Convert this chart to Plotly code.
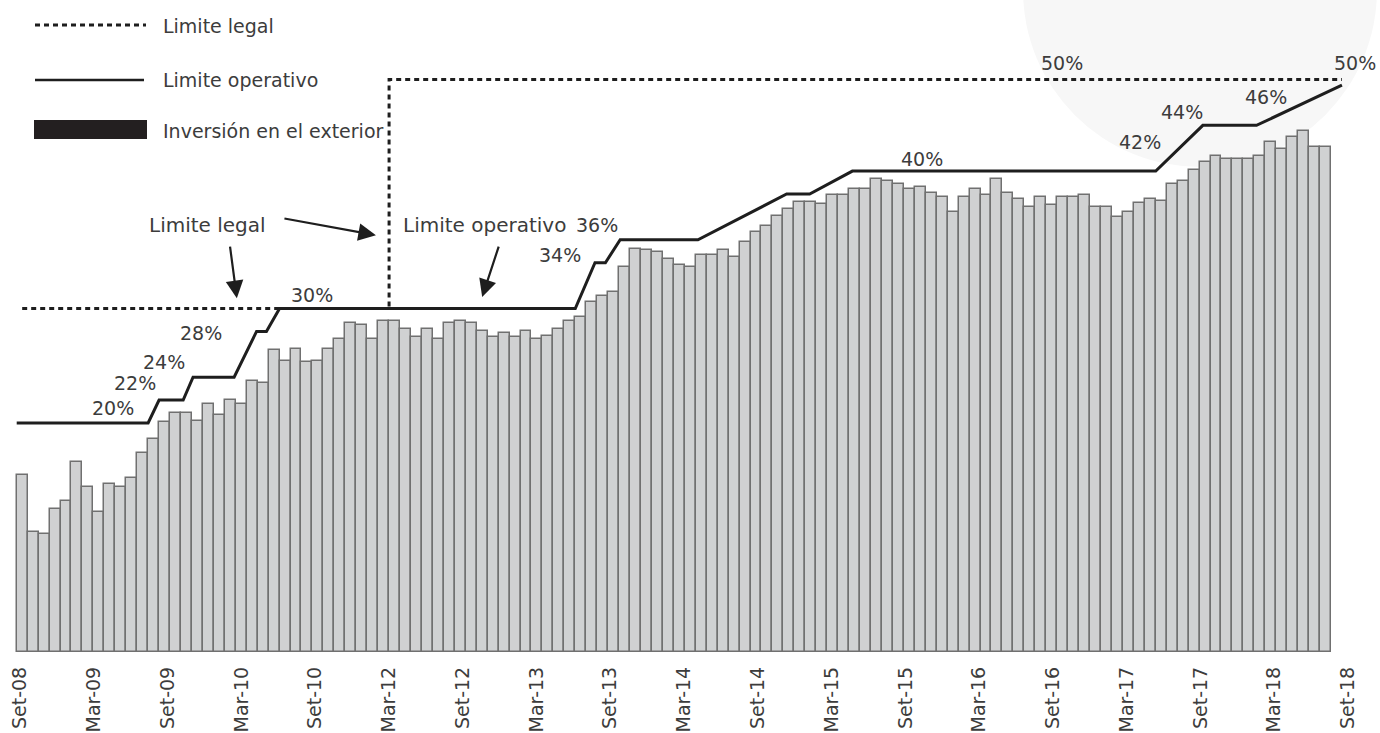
import plotly.graph_objects as go

# Inversión de los fondos en el exterior (% de la cartera), mensual desde set-08
inversion = [
    15.5, 10.5, 10.3, 12.5, 13.2, 16.6, 14.4, 12.2, 14.7, 14.4,
    15.2, 17.4, 18.6, 20.1, 20.9, 20.9, 20.2, 21.7, 20.7, 22.0,
    21.7, 23.7, 23.5, 26.4, 25.4, 26.5, 25.3, 25.4, 26.5, 27.3,
    28.7, 28.6, 27.3, 28.9, 28.9, 28.2, 27.5, 28.2, 27.3, 28.7,
    28.9, 28.7, 28.0, 27.5, 27.9, 27.5, 28.0, 27.3, 27.6, 28.2,
    28.9, 29.3, 30.6, 31.1, 31.4, 33.6, 35.2, 35.1, 34.9, 34.3,
    33.8, 33.6, 34.7, 34.7, 35.1, 34.5, 35.8, 36.7, 37.2, 38.1,
    38.7, 39.3, 39.3, 39.1, 39.9, 39.9, 40.4, 40.4, 41.3, 41.1,
    40.9, 40.4, 40.6, 40.1, 39.7, 38.4, 39.7, 40.4, 39.9, 41.3,
    40.1, 39.6, 38.9, 39.7, 39.0, 39.7, 39.7, 39.9, 38.9, 38.9,
    38.0, 38.4, 39.2, 39.6, 39.4, 40.9, 41.1, 42.1, 42.8, 43.3,
    43.1, 43.1, 43.1, 43.3, 44.5, 43.9, 45.0, 45.5, 44.1, 44.1,
]
meses = list(range(len(inversion)))

# Límite operativo: quiebres (mes, %)
operativo_mes = [-0.5, 11.5, 12.5, 14.7, 15.6, 19.35, 21.4, 22.3, 23.5,
                 50.5, 52.3, 53.25, 54.6, 61.7, 69.8, 71.9, 75.8,
                 103.5, 107.8, 112.7, 120.5]
operativo_pct = [20, 20, 22, 22, 24, 24, 28, 28, 30,
                 30, 34, 34, 36, 36, 40, 40, 42,
                 42, 46, 46, 49.5]

# Límite legal: 30% y luego 50%
legal_mes = [0, 33.5, 33.5, 120.5]
legal_pct = [30, 30, 50, 50]

# Etiquetas del eje horizontal
etiquetas = ["Set-08", "Mar-09", "Set-09", "Mar-10", "Set-10", "Mar-12",
             "Set-12", "Mar-13", "Set-13", "Mar-14", "Set-14", "Mar-15",
             "Set-15", "Mar-16", "Set-16", "Mar-17", "Set-17", "Mar-18",
             "Set-18"]

# Etiquetas de porcentaje sobre las líneas: (mes, %, texto)
rotulos = [
    (8.3, 21.3, "20%"), (10.3, 23.5, "22%"), (12.95, 25.3, "24%"),
    (16.3, 27.9, "28%"), (26.5, 31.2, "30%"), (49.1, 34.7, "34%"),
    (52.5, 37.3, "36%"), (82.2, 43.1, "40%"), (102.1, 44.5, "42%"),
    (105.9, 47.2, "44%"), (113.6, 48.5, "46%"), (94.9, 51.4, "50%"),
    (121.7, 51.4, "50%"),
]

FONT = "DejaVu Sans"
TXT = "#3c3c3c"
INK = "#1e1e1e"
W, H = 1380, 733
PLOT_BOTTOM = 652  # px where the bars sit

fig = go.Figure()

fig.add_trace(go.Bar(
    x=meses, y=inversion, width=1,
    marker=dict(color="#d0d1d2", line=dict(color="#707070", width=1.5)),
    hoverinfo="skip",
))
fig.add_trace(go.Scatter(
    x=legal_mes, y=legal_pct, mode="lines",
    line=dict(color=INK, width=3, dash="5px,4px"),
    hoverinfo="skip",
))
fig.add_trace(go.Scatter(
    x=operativo_mes, y=operativo_pct, mode="lines",
    line=dict(color=INK, width=3),
    hoverinfo="skip",
))

annotations = []
for mx, py, t in rotulos:
    annotations.append(dict(x=mx, y=py, text=t, showarrow=False,
                            font=dict(family=FONT, size=19, color=TXT),
                            xanchor="center", yanchor="middle"))

# textos con flechas
annotations += [
    dict(x=16.9, y=37.3, text="Limite legal", showarrow=False,
         font=dict(family=FONT, size=20, color=TXT)),
    dict(x=42.2, y=37.3, text="Limite operativo", showarrow=False,
         font=dict(family=FONT, size=20, color=TXT)),
    dict(x=32.3, y=36.4, ax=-93, ay=-17, text="", showarrow=True,
         arrowhead=2, arrowsize=1.6, arrowwidth=2.2, arrowcolor=INK),
    dict(x=19.6, y=30.9, ax=-7, ay=-53, text="", showarrow=True,
         arrowhead=2, arrowsize=1.6, arrowwidth=2.2, arrowcolor=INK),
    dict(x=42.0, y=31.0, ax=17, ay=-52, text="", showarrow=True,
         arrowhead=2, arrowsize=1.6, arrowwidth=2.2, arrowcolor=INK),
]

# leyenda dibujada a mano (coordenadas de papel)
def px_x(p):
    return p / W

def px_y(p):
    return (PLOT_BOTTOM - p) / PLOT_BOTTOM

shapes = [
    # marca de agua muy tenue al fondo
    dict(type="circle", xref="paper", yref="paper", layer="below",
         x0=px_x(1023), x1=px_x(1377), y0=px_y(167), y1=px_y(-187),
         fillcolor="#f7f7f7", line=dict(width=0)),
    # leyenda
    dict(type="line", xref="paper", yref="paper",
         x0=px_x(35), x1=px_x(146), y0=px_y(25), y1=px_y(25),
         line=dict(color=INK, width=3, dash="5px,4px")),
    dict(type="line", xref="paper", yref="paper",
         x0=px_x(35), x1=px_x(144), y0=px_y(80), y1=px_y(80),
         line=dict(color=INK, width=2.5)),
    dict(type="rect", xref="paper", yref="paper",
         x0=px_x(34), x1=px_x(147), y0=px_y(139), y1=px_y(120),
         fillcolor="#231f20", line=dict(width=0)),
]
for yy, t in [(26, "Limite legal"), (80, "Limite operativo"),
              (131, "Inversión en el exterior")]:
    annotations.append(dict(xref="paper", yref="paper", x=px_x(161), y=px_y(yy),
                            text=t, showarrow=False, xanchor="left",
                            yanchor="middle",
                            font=dict(family=FONT, size=19, color=TXT)))

# eje x: etiquetas repartidas a lo largo del eje
pitch = (1331.0 - 16.7) / len(inversion)
x_lo = -0.5 - 16.7 / pitch
x_hi = len(inversion) - 0.5 + (W - 1331.0) / pitch
first_tick = -0.5 + (20 - 16.7) / pitch
last_tick = -0.5 + (1348 - 16.7) / pitch
step = (last_tick - first_tick) / (len(etiquetas) - 1)
tickvals = [first_tick + i * step for i in range(len(etiquetas))]

y_hi = PLOT_BOTTOM / 11.45

fig.update_layout(
    width=W, height=H,
    margin=dict(l=0, r=0, t=0, b=H - PLOT_BOTTOM),
    paper_bgcolor="white", plot_bgcolor="rgba(0,0,0,0)",
    showlegend=False, bargap=0,
    xaxis=dict(range=[x_lo, x_hi], tickvals=tickvals, ticktext=etiquetas,
               tickangle=-90, ticks="", showgrid=False, zeroline=False,
               showline=False, ticklabelstandoff=10,
               tickfont=dict(family=FONT, size=19, color=TXT)),
    yaxis=dict(range=[0, y_hi], visible=False, showgrid=False),
    annotations=annotations, shapes=shapes,
)

fig.write_html("out.html")
